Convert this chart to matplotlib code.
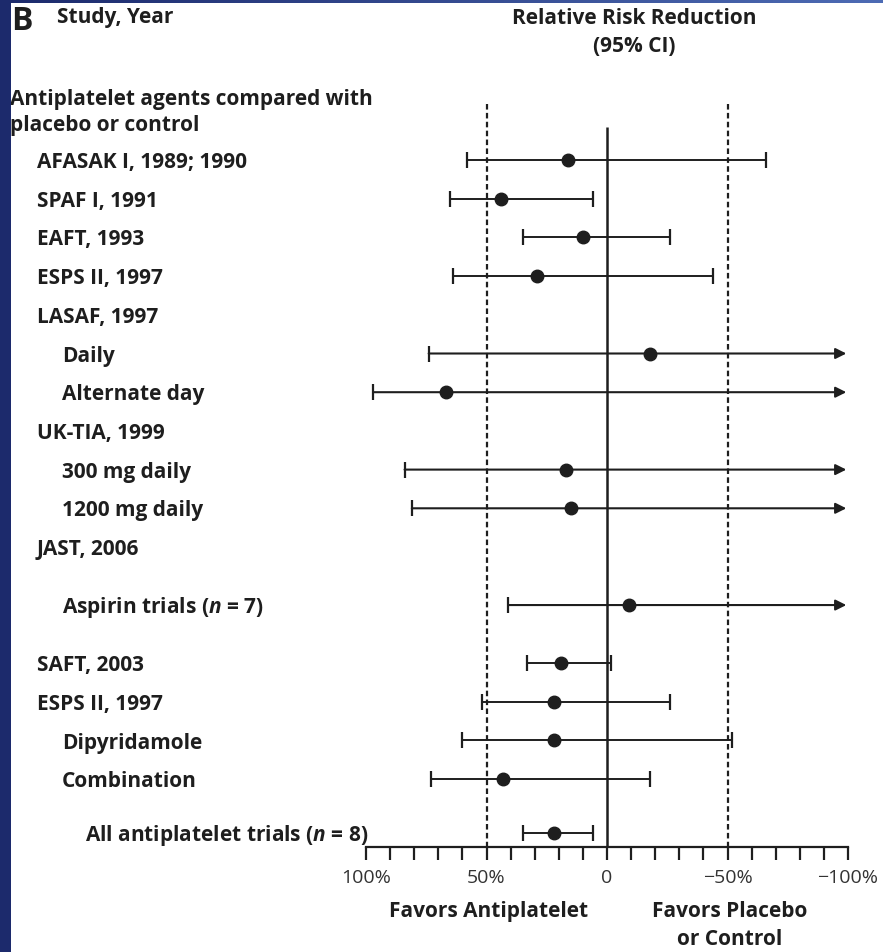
import numpy as np
import matplotlib
matplotlib.use("Agg")
import matplotlib.pyplot as plt
from matplotlib.patches import Rectangle
from matplotlib.ticker import FixedLocator, MultipleLocator
import matplotlib.transforms as mtransforms

plt.rcParams['font.family'] = ['Open Sans', 'DejaVu Sans']
plt.rcParams['mathtext.fontset'] = 'custom'
plt.rcParams['mathtext.it'] = 'Open Sans:italic:bold'
plt.rcParams['mathtext.rm'] = 'Open Sans:bold'

# relative risk reduction (%) with 95% CI; None = header row / open-ended upper bound
labels = ["AFASAK I, 1989; 1990", "SPAF I, 1991", "EAFT, 1993", "ESPS II, 1997",
          "LASAF, 1997", "Daily", "Alternate day",
          "UK-TIA, 1999", "300 mg daily", "1200 mg daily",
          "JAST, 2006", "Aspirin trials ($n$ = 7)",
          "SAFT, 2003", "ESPS II, 1997", "Dipyridamole", "Combination",
          "All antiplatelet trials ($n$ = 8)"]
rrr = [16, 44, 10, 29, None, -18, 67, None, 17, 15, None, -9, 19, 22, 22, 43, 22]
ci_low = [58, 65, 35, 64, None, 74, 97, None, 84, 81, None, 41, 33, 52, 60, 73, 35]
ci_high = [-66, 6, -26, -44, None, None, None, None, None, None, None, None, -1.5, -26, -52, -18, 6]

# row slots and label indents
slots = [0, 1, 2, 3, 4, 5, 6, 7, 8, 9, 10, 11.5, 13, 14, 15, 16, 17.4]
indent_px = [37, 37, 37, 37, 37, 62, 62, 37, 62, 62, 37, 62, 37, 37, 62, 62, 85]

W, H = 883, 953
ROW0, STEP = 161, 38.7  # pixel y of first row, pixels per row
FS = 15


def slot_of(py):
    return (py - ROW0) / STEP


ink = '#1e1e1e'
fig = plt.figure(figsize=(W / 100, H / 100), dpi=100, facecolor='white')

# dark blue frame on the left and a thin gradient strip on top
fig.patches.append(Rectangle((0, 0), 11 / W, 1, transform=fig.transFigure,
                             facecolor='#1c2a6c', edgecolor='none', zorder=5))
strip = fig.add_axes([0, 1 - 4 / H, 1, 4 / H])
strip.imshow(np.linspace(0, 1, 256)[None, :], aspect='auto',
             cmap=matplotlib.colors.LinearSegmentedColormap.from_list('s', ['#1c2a6c', '#4d6bb4']))
strip.axis('off')

ax = fig.add_axes([366 / W, 1 - 848 / H, 482 / W, 848 / H])
ax.set_xlim(100, -100)
ax.set_ylim(slot_of(848), slot_of(0))
ax.patch.set_alpha(0)
for s in ['top', 'right', 'left']:
    ax.spines[s].set_visible(False)
ax.spines['bottom'].set_linewidth(1.6)
ax.spines['bottom'].set_color(ink)
ax.set_yticks([])
ax.xaxis.set_major_locator(FixedLocator([100, 50, 0, -50, -100]))
ax.xaxis.set_minor_locator(MultipleLocator(10))
ax.set_xticklabels(['100%', '50%', '0', '\u221250%', '\u2212100%'],
                   fontsize=14, color='#333333')
ax.tick_params(axis='x', which='both', length=9, width=1.6, color=ink, pad=6)

# reference lines
ax.vlines(0, slot_of(128), slot_of(848), color=ink, lw=1.8)
ax.vlines([50, -50], slot_of(105), slot_of(848), color=ink, lw=1.6,
          linestyles=(0, (2.5, 1.5)))

for y, est, lo, hi in zip(slots, rrr, ci_low, ci_high):
    if est is None:
        continue
    if hi is None:
        ax.annotate('', xy=(-99.3, y), xytext=(lo, y),
                    arrowprops=dict(arrowstyle='-|>', lw=1.5, color=ink,
                                    mutation_scale=16, shrinkA=0, shrinkB=0))
        ax.plot([lo], [y], '|', ms=12, mew=1.6, color=ink)
    else:
        ax.hlines(y, hi, lo, color=ink, lw=1.4)
        ax.plot([lo, hi], [y, y], '|', ms=12, mew=1.6, color=ink)
    ax.plot(est, y, 'o', ms=9, color=ink, zorder=4)

# row labels
lab_tr = mtransforms.blended_transform_factory(fig.transFigure, ax.transData)
for lab, y, xp in zip(labels, slots, indent_px):
    ax.text(xp / W, y + 0.04, lab, transform=lab_tr, ha='left', va='center',
            fontsize=FS, fontweight='bold', color=ink, clip_on=False)


def ftext(px, py, s, **kw):
    fig.text(px / W, 1 - py / H, s, color=ink, fontweight='bold', **kw)


ftext(11, 22, 'B', fontsize=23, va='center', ha='left')
ftext(57, 18, 'Study, Year', fontsize=FS, va='center')
ftext(634, 18, 'Relative Risk Reduction', fontsize=FS, va='center', ha='center')
ftext(634, 46, '(95% CI)', fontsize=FS, va='center', ha='center')
ftext(10, 99, 'Antiplatelet agents compared with', fontsize=FS, va='center')
ftext(10, 126, 'placebo or control', fontsize=FS, va='center')
ftext(489, 912, 'Favors Antiplatelet', fontsize=FS, va='center', ha='center')
ftext(730, 912, 'Favors Placebo', fontsize=FS, va='center', ha='center')
ftext(730, 940, 'or Control', fontsize=FS, va='center', ha='center')

fig.savefig('out.png', dpi=100, facecolor='white')
